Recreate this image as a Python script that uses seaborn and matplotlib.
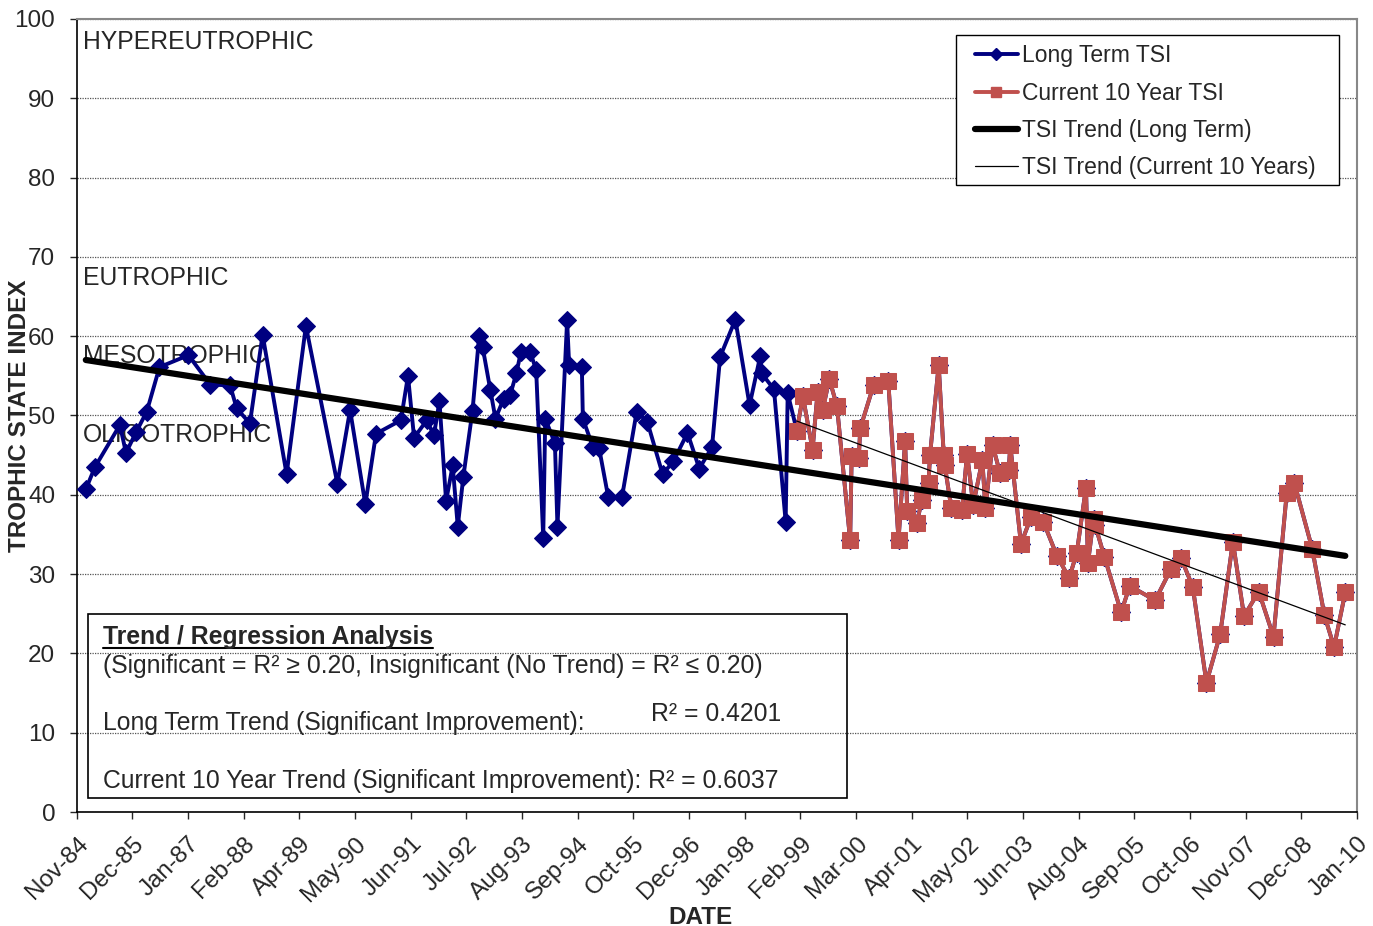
import numpy as np
import pandas as pd
import matplotlib
matplotlib.use("Agg")
import matplotlib.pyplot as plt
from matplotlib.lines import Line2D
import seaborn as sns

# sample dates as decimal years, TSI values
long_years = [1985.05, 1985.23, 1985.72, 1985.84, 1986.04, 1986.25, 1986.50, 1987.07,
              1987.50, 1987.89, 1988.02, 1988.28, 1988.53, 1989.00, 1989.38, 1990.00,
              1990.25, 1990.55, 1990.76, 1991.25, 1991.39, 1991.51, 1991.76, 1991.90,
              1992.01, 1992.14, 1992.27, 1992.37, 1992.48, 1992.66, 1992.79, 1992.86,
              1993.01, 1993.11, 1993.27, 1993.40, 1993.52, 1993.61, 1993.79, 1993.91,
              1994.05, 1994.09, 1994.28, 1994.33, 1994.52, 1994.56, 1994.81, 1994.83,
              1995.03, 1995.15, 1995.33, 1995.60, 1995.89, 1996.10, 1996.40, 1996.61,
              1996.89, 1997.12, 1997.37, 1997.53, 1997.83, 1998.11, 1998.32, 1998.35,
              1998.59, 1998.82, 1998.86]
long_tsi = [40.7, 43.5, 48.8, 45.3, 47.9, 50.5, 56.1, 57.6,
            53.9, 53.8, 50.9, 49.0, 60.2, 42.6, 61.3, 41.4,
            50.7, 38.8, 47.7, 49.4, 55.0, 47.2, 49.4, 47.5,
            51.8, 39.2, 43.7, 36.0, 42.3, 50.6, 60.0, 58.6,
            53.2, 49.6, 52.1, 52.6, 55.3, 58.0, 58.0, 55.8,
            34.6, 49.6, 46.5, 36.0, 62.0, 56.4, 56.1, 49.6,
            46.0, 45.9, 39.7, 39.7, 50.5, 49.2, 42.6, 44.2,
            47.8, 43.3, 46.0, 57.4, 62.1, 51.3, 57.5, 55.3,
            53.3, 36.6, 52.8]

cur_years = [1999.04, 1999.16, 1999.35, 1999.45, 1999.55, 1999.68, 1999.83, 2000.09,
             2000.12, 2000.26, 2000.29, 2000.55, 2000.84, 2001.04, 2001.17, 2001.21,
             2001.40, 2001.50, 2001.63, 2001.66, 2001.83, 2001.93, 2001.95, 2002.08,
             2002.29, 2002.39, 2002.51, 2002.69, 2002.75, 2002.89, 2003.04, 2003.21,
             2003.24, 2003.45, 2003.65, 2003.89, 2004.16, 2004.40, 2004.55, 2004.73,
             2004.77, 2004.88, 2004.91, 2005.09, 2005.42, 2005.59, 2006.09, 2006.40,
             2006.60, 2006.83, 2007.10, 2007.37, 2007.62, 2007.84, 2008.13, 2008.42,
             2008.68, 2008.83, 2009.18, 2009.42, 2009.61, 2009.83]
cur_tsi = [48.1, 52.4, 45.7, 53.0, 50.7, 54.6, 51.2, 34.3,
           44.9, 44.7, 48.4, 53.8, 54.4, 34.3, 46.8, 38.0,
           36.4, 39.4, 41.5, 45.0, 56.4, 45.0, 43.7, 38.3,
           38.1, 45.2, 38.7, 44.4, 38.3, 46.3, 42.7, 43.1,
           46.3, 33.8, 37.2, 36.6, 32.3, 29.5, 32.7, 40.9,
           31.4, 37.0, 36.2, 32.2, 25.2, 28.5, 26.7, 30.6,
           32.0, 28.4, 16.3, 22.4, 34.1, 24.7, 27.8, 22.1,
           40.2, 41.5, 33.2, 24.8, 20.8, 27.7]

# trend line end points
trend_long_years = [1985.05, 2009.83]
trend_long_tsi = [57.0, 32.3]
trend_cur_years = [1999.04, 2009.83]
trend_cur_tsi = [49.3, 23.6]

tick_labels = ["Nov-84", "Dec-85", "Jan-87", "Feb-88", "Apr-89", "May-90", "Jun-91", "Jul-92",
               "Aug-93", "Sep-94", "Oct-95", "Dec-96", "Jan-98", "Feb-99", "Mar-00", "Apr-01",
               "May-02", "Jun-03", "Aug-04", "Sep-05", "Oct-06", "Nov-07", "Dec-08", "Jan-10"]
zone_names = ["HYPEREUTROPHIC", "EUTROPHIC", "MESOTROPHIC", "OLIGOTROPHIC"]
zone_y = [97.1, 67.4, 57.5, 47.5]


def to_date(y):
    yr = int(y)
    return pd.Timestamp(yr, 1, 1) + pd.Timedelta(days=(y - yr) * 365.25)


sns.set_style("white")
plt.rcParams["font.family"] = ["Liberation Sans", "DejaVu Sans"]

fig = plt.figure(figsize=(13.73, 9.26), dpi=100)
ax = fig.add_axes([0.0559, 0.1231, 0.9324, 0.8564])

blue = "#000080"
red = "#C0504D"

# long term series runs through the whole record, the 10 year series sits on top
lt = pd.DataFrame({"date": [to_date(v) for v in long_years + cur_years],
                   "tsi": long_tsi + cur_tsi})
ct = pd.DataFrame({"date": [to_date(v) for v in cur_years], "tsi": cur_tsi})

sns.lineplot(data=lt, x="date", y="tsi", ax=ax, color=blue, linewidth=2.8,
             marker="D", markersize=9.5, markeredgecolor=blue, estimator=None, sort=False, zorder=3)
sns.lineplot(data=ct, x="date", y="tsi", ax=ax, color=red, linewidth=2.8,
             marker="s", markersize=11.5, markeredgecolor=red, estimator=None, sort=False, zorder=4)
sns.lineplot(x=[to_date(v) for v in trend_long_years], y=trend_long_tsi, ax=ax,
             color="black", linewidth=4.5, solid_capstyle="round", zorder=5)
sns.lineplot(x=[to_date(v) for v in trend_cur_years], y=trend_cur_tsi, ax=ax,
             color="black", linewidth=0.9, zorder=6)

start = pd.Timestamp("1984-11-15")
ticks = [start + pd.Timedelta(days=400 * k) for k in range(len(tick_labels))]
ax.set_xlim(ticks[0], ticks[-1])
ax.set_xticks(ticks)
ax.set_xticklabels(tick_labels, rotation=45, ha="right", rotation_mode="anchor", fontsize=17.5)
ax.set_ylim(0, 100)
ax.set_yticks(range(0, 101, 10))
ax.tick_params(axis="y", labelsize=17.5, direction="out", length=5, width=1, left=True, pad=10.5)
ax.tick_params(axis="x", direction="out", length=5, width=1, bottom=True, pad=10)
ax.yaxis.grid(True, linestyle=(0, (1, 1)), color="#555555", linewidth=0.9)
ax.set_axisbelow(True)

for side in ["left", "bottom"]:
    ax.spines[side].set_color("black")
    ax.spines[side].set_linewidth(1.2)
for side in ["top", "right"]:
    ax.spines[side].set_color("#888888")
    ax.spines[side].set_linewidth(1.5)

ax.set_xlabel("DATE", fontsize=17.5, fontweight="bold")
ax.set_ylabel("TROPHIC STATE INDEX", fontsize=17.5, fontweight="bold")
ax.xaxis.set_label_coords(0.487, -0.118)
ax.yaxis.set_label_coords(-0.0357, 0.5)

for name, yv in zip(zone_names, zone_y):
    ax.text(0.005, yv, name, transform=ax.get_yaxis_transform(), fontsize=17.8,
            va="center", ha="left", zorder=2)

# legend: white box drawn separately so the padding can match
ax.add_patch(plt.Rectangle((0.6866, 0.7907), 0.2994, 0.1892, transform=ax.transAxes,
                           facecolor="white", edgecolor="black", linewidth=1.0, zorder=9))
handles = [
    Line2D([], [], color=blue, linewidth=2.8, marker="D", markersize=6.5),
    Line2D([], [], color=red, linewidth=2.8, marker="s", markersize=7.5),
    Line2D([], [], color="black", linewidth=4.5, solid_capstyle="round"),
    Line2D([], [], color="black", linewidth=0.9),
]
labels = ["Long Term TSI", "Current 10 Year TSI", "TSI Trend (Long Term)",
          "TSI Trend (Current 10 Years)"]
leg = ax.legend(handles, labels, loc="upper left", bbox_to_anchor=(0.7016, 0.968),
                fontsize=16.5, frameon=False, handlelength=1.88, handletextpad=0.17,
                labelspacing=0.62, borderpad=0, borderaxespad=0)
leg.set_zorder(10)

# regression summary box
box = plt.Rectangle((0.0641, 0.1382), 0.5528, 0.1987, transform=fig.transFigure,
                    fill=False, edgecolor="black", linewidth=1.2, zorder=8)
fig.patches.append(box)
title = fig.text(0.075, 1 - 637 / 926, "Trend / Regression Analysis", fontsize=17.8,
                 fontweight="bold", va="center", ha="left")
fig.text(0.075, 1 - 666 / 926, "(Significant = R² ≥ 0.20, Insignificant (No Trend) = R² ≤ 0.20)",
         fontsize=17.8, va="center", ha="left")
fig.text(0.075, 1 - 723 / 926, "Long Term Trend (Significant Improvement):",
         fontsize=17.8, va="center", ha="left")
fig.text(0.4742, 1 - 714 / 926, "R² = 0.4201", fontsize=17.8, va="center", ha="left")
fig.text(0.075, 1 - 781 / 926, "Current 10 Year Trend (Significant Improvement): R² = 0.6037",
         fontsize=17.8, va="center", ha="left")

# underline the box title
fig.canvas.draw()
bb = title.get_window_extent(fig.canvas.get_renderer()).transformed(fig.transFigure.inverted())
fig.add_artist(Line2D([bb.x0, bb.x1], [bb.y0 + 0.001, bb.y0 + 0.001], color="black",
                      linewidth=1.5, transform=fig.transFigure))

fig.savefig("out.png", dpi=100)
